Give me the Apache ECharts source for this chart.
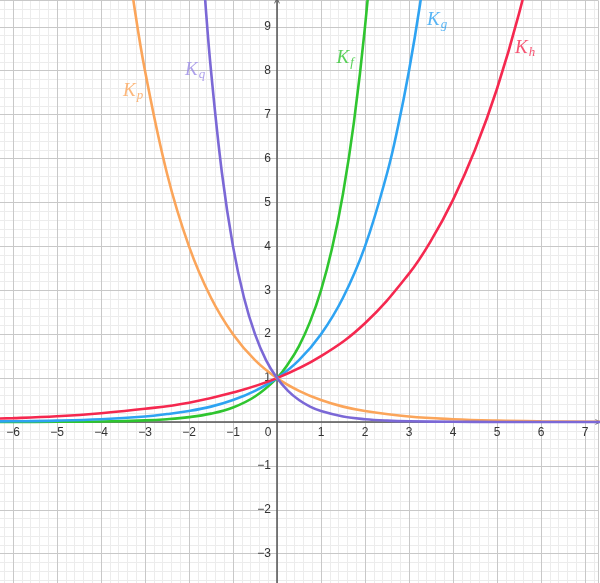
<!DOCTYPE html>
<html lang="en">
<head>
<meta charset="UTF-8">
<script src="https://cdn.jsdelivr.net/npm/echarts@6/dist/echarts.min.js"></script>
<title>Exponential curves</title>
<style>
  html, body { margin: 0; padding: 0; background: #fff; }
</style>
</head>
<body>
<div id="main" style="width: 600px;height:583px;"></div>

<script type="text/javascript">
    // values, [x] and [y] per curve
    var xsF = [-7, -6, -5, -4, -3, -2.5, -2, -1.5, -1, -0.5, 0, 0.25, 0.5, 0.75, 1, 1.25, 1.5, 1.75, 2, 2.25];
    var ysF = [0.0005, 0.0014, 0.004, 0.012, 0.037, 0.064, 0.11, 0.19, 0.33, 0.58, 1, 1.32, 1.73, 2.28, 3, 3.95, 5.2, 6.84, 9, 11.84];

    var xsG = [-7, -6, -5, -4, -3, -2.5, -2, -1.5, -1, -0.5, 0, 0.5, 1, 1.5, 2, 2.5, 2.75, 3, 3.25, 3.5];
    var ysG = [0.008, 0.016, 0.031, 0.063, 0.125, 0.18, 0.25, 0.35, 0.5, 0.71, 1, 1.41, 2, 2.83, 4, 5.66, 6.73, 8, 9.51, 11.31];

    var xsH = [-7, -6, -5, -4, -3, -2, -1, 0, 1, 2, 3, 3.5, 4, 4.5, 5, 5.5, 6];
    var ysH = [0.059, 0.088, 0.13, 0.2, 0.3, 0.44, 0.67, 1, 1.5, 2.25, 3.38, 4.13, 5.06, 6.2, 7.59, 9.3, 11.39];

    var xsP = [-3.5, -3.25, -3, -2.5, -2, -1.5, -1, -0.5, 0, 0.5, 1, 1.5, 2, 3, 4, 5, 6, 7.5];
    var ysP = [11.31, 9.51, 8, 5.66, 4, 2.83, 2, 1.41, 1, 0.71, 0.5, 0.35, 0.25, 0.125, 0.063, 0.031, 0.016, 0.006];

    var xsQ = [-1.75, -1.625, -1.5, -1.25, -1, -0.75, -0.5, -0.25, 0, 0.25, 0.5, 0.75, 1, 1.5, 2, 2.5, 3, 4, 5, 7.5];
    var ysQ = [11.31, 9.51, 8, 5.66, 4, 2.83, 2, 1.41, 1, 0.71, 0.5, 0.35, 0.25, 0.125, 0.063, 0.031, 0.016, 0.004, 0.001, 0];

    // curve names and where their labels sit (data units)
    var curveNames = ['f', 'g', 'h', 'p', 'q'];
    var curveColors = ['#2fc52f', '#2ea3f2', '#f5284f', '#fba55a', '#7b68d6'];
    var labelColors = ['#2fc52f', '#2ea3f2', '#f5284f', '#fba55a', '#9a8ae6'];
    var labelX = [1.55, 3.64, 5.64, -3.27, -1.86];
    var labelY = [8.29, 9.16, 8.52, 7.54, 8.02];

    var xRange = [-7, 7.3];
    var yRange = [-4, 9.6];

    var W = 600, H = 583;
    var gridPos = { left: -31, right: 1.8, top: 0.5, bottom: -14.6 };
    // px per unit, used to shift the axes onto x = 0 / y = 0
    var unitX = (W - gridPos.left - gridPos.right) / (xRange[1] - xRange[0]);
    var unitY = (H - gridPos.top - gridPos.bottom) / (yRange[1] - yRange[0]);

    function pairs(xs, ys) {
        return xs.map(function (x, i) { return [x, ys[i]]; });
    }
    function tickText(v) {
        if (v === 0 || Math.round(v) !== v) return '';
        return String(v).replace('-', '\u2212');
    }

    var myChart = echarts.init(document.getElementById('main'));

    var curveData = [pairs(xsF, ysF), pairs(xsG, ysG), pairs(xsH, ysH), pairs(xsP, ysP), pairs(xsQ, ysQ)];

    var series = curveData.map(function (d, i) {
        return {
            name: 'K' + curveNames[i],
            type: 'line',
            xAxisIndex: 0,
            yAxisIndex: 0,
            data: d,
            smooth: 0.4,
            showSymbol: false,
            clip: true,
            lineStyle: { color: curveColors[i], width: 2.6 },
            z: 3
        };
    });

    // curve names as a symbol-less scatter with rich labels
    series.push({
        type: 'scatter',
        symbolSize: 0,
        z: 5,
        data: curveNames.map(function (n, i) {
            return {
                value: [labelX[i], labelY[i]],
                label: { color: labelColors[i] },
                sub: n
            };
        }),
        label: {
            show: true,
            position: 'inside',
            formatter: function (p) { return '{k|K}{s|' + p.data.sub + '}'; },
            rich: {
                k: { fontFamily: 'Liberation Serif', fontStyle: 'italic', fontSize: 19, lineHeight: 20 },
                s: { fontFamily: 'Liberation Serif', fontStyle: 'italic', fontSize: 13, padding: [9, 0, 0, 1] }
            }
        }
    });

    var arrow = 'path://M0,10 L5,0 L10,10 L8.6,10.6 L5,3 L1.4,10.6 Z';

    var option = {
        animation: false,
        backgroundColor: '#ffffff',
        grid: {
            left: gridPos.left, right: gridPos.right, top: gridPos.top, bottom: gridPos.bottom,
            containLabel: false,
            outerBoundsMode: 'none'
        },
        xAxis: [
            {
                type: 'value', min: xRange[0], max: xRange[1], interval: 1, z: 2,
                position: 'bottom',
                offset: -(0 - yRange[0]) * unitY,
                axisLine: {
                    onZero: false,
                    lineStyle: { color: '#555', width: 1.5 },
                    symbol: ['none', arrow],
                    symbolSize: [10, 6]
                },
                axisTick: { show: false },
                axisLabel: {
                    margin: 5, fontSize: 12, color: '#333', fontFamily: 'Liberation Sans',
                    showMinLabel: true, showMaxLabel: false, hideOverlap: false,
                    formatter: function (v) {
                        if (v === 0) return '{o|0}';
                        return tickText(v);
                    },
                    rich: { o: { fontSize: 12, color: '#333', fontFamily: 'Liberation Sans', padding: [0, 18, 0, 0] } }
                },
                splitLine: { show: true, lineStyle: { color: '#c8c8c8', width: 1 } }
            },
            {
                type: 'value', min: xRange[0], max: xRange[1], interval: 0.2, z: 1,
                position: 'top',
                axisLine: { show: false }, axisTick: { show: false }, axisLabel: { show: false },
                splitLine: { show: true, lineStyle: { color: '#ececec', width: 1 } }
            }
        ],
        yAxis: [
            {
                type: 'value', min: yRange[0], max: yRange[1], interval: 1, z: 2,
                position: 'left',
                offset: -(0 - xRange[0]) * unitX,
                axisLine: {
                    onZero: false,
                    lineStyle: { color: '#555', width: 1.5 },
                    symbol: ['none', arrow],
                    symbolSize: [10, 6]
                },
                axisTick: { show: false },
                axisLabel: {
                    margin: 6, fontSize: 12, color: '#333', fontFamily: 'Liberation Sans',
                    showMaxLabel: false, hideOverlap: false,
                    formatter: tickText
                },
                splitLine: { show: true, lineStyle: { color: '#c8c8c8', width: 1 } }
            },
            {
                type: 'value', min: yRange[0], max: yRange[1], interval: 0.2, z: 1,
                position: 'right',
                axisLine: { show: false }, axisTick: { show: false }, axisLabel: { show: false },
                splitLine: { show: true, lineStyle: { color: '#ececec', width: 1 } }
            }
        ],
        series: series
    };
    myChart.setOption(option);
</script>
</body>
</html>
